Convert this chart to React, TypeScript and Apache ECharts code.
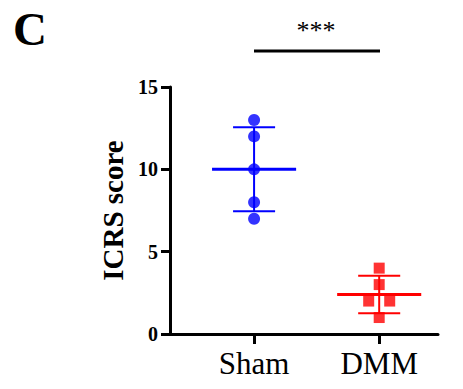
import React, { useEffect, useRef } from "react";
import * as echarts from "echarts";

const categories = ["Sham", "DMM"];
const shamValues = [13, 12, 10, 8, 7];
const dmmValues = [4, 3, 2, 2, 1];
const dmmOffsets = [0, 0, -0.084, 0.084, 0];
const yTicks = [0, 5, 10, 15];

function meanSd(v: number[]) {
  const m = v.reduce((a, b) => a + b, 0) / v.length;
  const s = Math.sqrt(v.reduce((a, b) => a + (b - m) * (b - m), 0) / (v.length - 1));
  return [m, s];
}

export default function App() {
  const ref = useRef<HTMLDivElement>(null);
  useEffect(() => {
    const chart = echarts.init(ref.current!, null, { renderer: "svg" });
    const [shamM, shamS] = meanSd(shamValues);
    const [dmmM, dmmS] = meanSd(dmmValues);
    const errData = [
      [1, shamM, shamS, 0],
      [2, dmmM, dmmS, 1],
    ];
    const colors = ["#0000FF", "#FF0000"];
    chart.setOption({
      animation: false,
      grid: { left: 170, right: 25, top: 87, bottom: 55 },
      xAxis: {
        type: "value",
        min: 0.328,
        max: 2.47,
        splitLine: { show: false },
        axisLine: { show: true, lineStyle: { color: "#000000", width: 3, opacity: 1 } },
        axisTick: { show: true, customValues: [1, 2], length: 10, lineStyle: { color: "#000000", width: 3 } },
        axisLabel: {
          customValues: [1, 2],
          formatter: (v: number) => categories[Math.round(v) - 1] ?? "",
          fontFamily: "Liberation Serif",
          fontSize: 31,
          color: "#000000",
          margin: 14,
        },
      },
      yAxis: {
        type: "value",
        min: 0,
        max: 15,
        interval: 5,
        name: "ICRS score",
        nameLocation: "middle",
        nameRotate: 90,
        nameGap: 42,
        nameTextStyle: { fontFamily: "Liberation Serif", fontWeight: "bold", fontSize: 29, color: "#000000" },
        splitLine: { show: false },
        axisLine: { show: true, lineStyle: { color: "#000000", width: 3, opacity: 1 } },
        axisTick: { show: true, inside: false, length: 9, lineStyle: { color: "#000000", width: 3 } },
        axisLabel: {
          fontFamily: "Liberation Serif",
          fontWeight: "bold",
          fontSize: 20,
          color: "#000000",
          margin: 12,
          formatter: (v: number) => (yTicks.includes(v) ? String(v) : ""),
        },
      },
      series: [
        {
          type: "custom",
          data: errData,
          z: 3,
          renderItem: (params: any, api: any) => {
            const x = api.value(0);
            const m = api.value(1);
            const s = api.value(2);
            const c = colors[api.value(3)];
            const top = api.coord([x, m + s]);
            const bot = api.coord([x, m - s]);
            const ml = api.coord([x - 0.336, m]);
            const mr = api.coord([x + 0.336, m]);
            const ctl = api.coord([x - 0.168, m + s]);
            const ctr = api.coord([x + 0.168, m + s]);
            const cbl = api.coord([x - 0.168, m - s]);
            const cbr = api.coord([x + 0.168, m - s]);
            const ls = { stroke: c, lineWidth: 2 };
            return {
              type: "group",
              children: [
                { type: "line", shape: { x1: top[0], y1: top[1], x2: bot[0], y2: bot[1] }, style: ls },
                { type: "line", shape: { x1: ctl[0], y1: ctl[1], x2: ctr[0], y2: ctr[1] }, style: ls },
                { type: "line", shape: { x1: cbl[0], y1: cbl[1], x2: cbr[0], y2: cbr[1] }, style: ls },
                { type: "line", shape: { x1: ml[0], y1: ml[1], x2: mr[0], y2: mr[1] }, style: { stroke: c, lineWidth: 3 } },
              ],
            };
          },
        },
        {
          type: "scatter",
          symbol: "circle",
          symbolSize: 12,
          itemStyle: { color: "#0000FF" },
          z: 4,
          data: shamValues.map((v) => [1, v]),
        },
        {
          type: "scatter",
          symbol: "rect",
          symbolSize: 11,
          itemStyle: { color: "#FF0000" },
          z: 4,
          data: dmmValues.map((v, i) => [2 + dmmOffsets[i], v]),
        },
      ],
      graphic: [
        {
          type: "text",
          left: 13,
          top: 5,
          style: { text: "C", fontFamily: "Liberation Serif", fontWeight: "bold", fontSize: 47, fill: "#000000" },
        },
        {
          type: "text",
          x: 316,
          y: 30,
          style: { text: "***", fontFamily: "Liberation Serif", fontSize: 26, fill: "#000000", align: "center", verticalAlign: "middle" },
        },
        {
          type: "line",
          shape: { x1: 254, y1: 51, x2: 380, y2: 51 },
          style: { stroke: "#000000", lineWidth: 3 },
        },
      ],
    });
    return () => chart.dispose();
  }, []);
  return <div ref={ref} style={{ width: 463, height: 389, position: "absolute", left: 0, top: 0 }} />;
}
